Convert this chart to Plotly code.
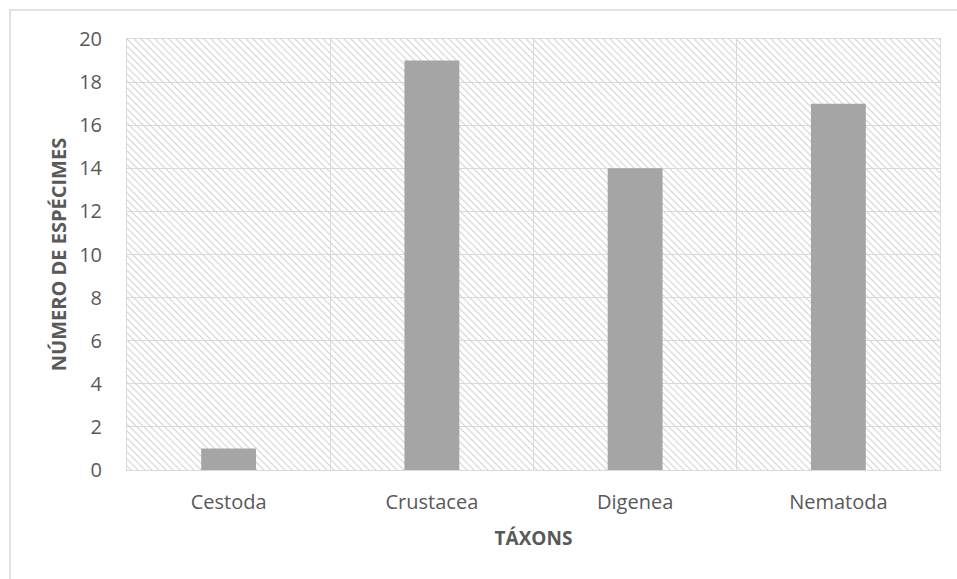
import base64
import plotly.graph_objects as go

categories = ["Cestoda", "Crustacea", "Digenea", "Nematoda"]
values = [1, 19, 14, 17]
y_ticks = [0, 2, 4, 6, 8, 10, 12, 14, 16, 18, 20]

W, H = 957, 579
ML, MR, MT, MB = 127, 17, 39, 109
PW, PH = W - ML - MR, H - MT - MB

# hatched plot background (wide downward diagonal)
svg = f'''<svg xmlns="http://www.w3.org/2000/svg" width="{PW}" height="{PH}" viewBox="0 0 {PW} {PH}">
<defs><pattern id="p" width="7" height="7" patternUnits="userSpaceOnUse">
<rect width="7" height="7" fill="white"/>
<path d="M-1,-1 L8,8 M-1,6 L1,8 M6,-1 L8,1" stroke="#d6d6d6" stroke-width="1.2"/>
</pattern></defs>
<rect width="{PW}" height="{PH}" fill="url(#p)"/></svg>'''
src = "data:image/svg+xml;base64," + base64.b64encode(svg.encode()).decode()

fig = go.Figure(go.Bar(
    x=categories, y=values, width=0.27,
    marker=dict(color="#a5a5a5", line=dict(width=0)),
))

fig.add_layout_image(dict(source=src, xref="x domain", yref="y domain",
                          x=0, y=1, sizex=1, sizey=1, sizing="stretch",
                          xanchor="left", yanchor="top", layer="below"))

# outer chart border
def px_to_paper_x(px):
    return (px - ML) / PW

def px_to_paper_y(py):
    return (H - MB - py) / PH

fig.add_shape(type="rect", xref="paper", yref="paper",
              x0=px_to_paper_x(10), x1=px_to_paper_x(970),
              y0=px_to_paper_y(590), y1=px_to_paper_y(10),
              line=dict(color="#d9d9d9", width=1.5), fillcolor="rgba(0,0,0,0)",
              layer="below")

grid = "#d9d9d9"
fig.update_layout(
    width=W, height=H,
    margin=dict(l=ML, r=MR, t=MT, b=MB),
    paper_bgcolor="white", plot_bgcolor="rgba(0,0,0,0)",
    showlegend=False,
    font=dict(family="Open Sans", color="#595959", size=20),
    xaxis=dict(
        tickson="boundaries", showgrid=True, gridcolor=grid, gridwidth=1,
        showline=True, linecolor=grid, linewidth=1, mirror=True,
        ticks="", ticklabelstandoff=14,
        title=dict(text="<b>TÁXONS</b>", font=dict(size=19, color="#595959"), standoff=17),
    ),
    yaxis=dict(
        range=[0, 20], tickvals=y_ticks, showgrid=True, gridcolor=grid, gridwidth=1,
        showline=True, linecolor=grid, linewidth=1, mirror=True, zeroline=False,
        ticks="", ticklabelstandoff=20,
        title=dict(text="<b>NÚMERO DE ESPÉCIMES</b>", font=dict(size=20, color="#595959"), standoff=7),
    ),
)

fig.write_html("out.html")
